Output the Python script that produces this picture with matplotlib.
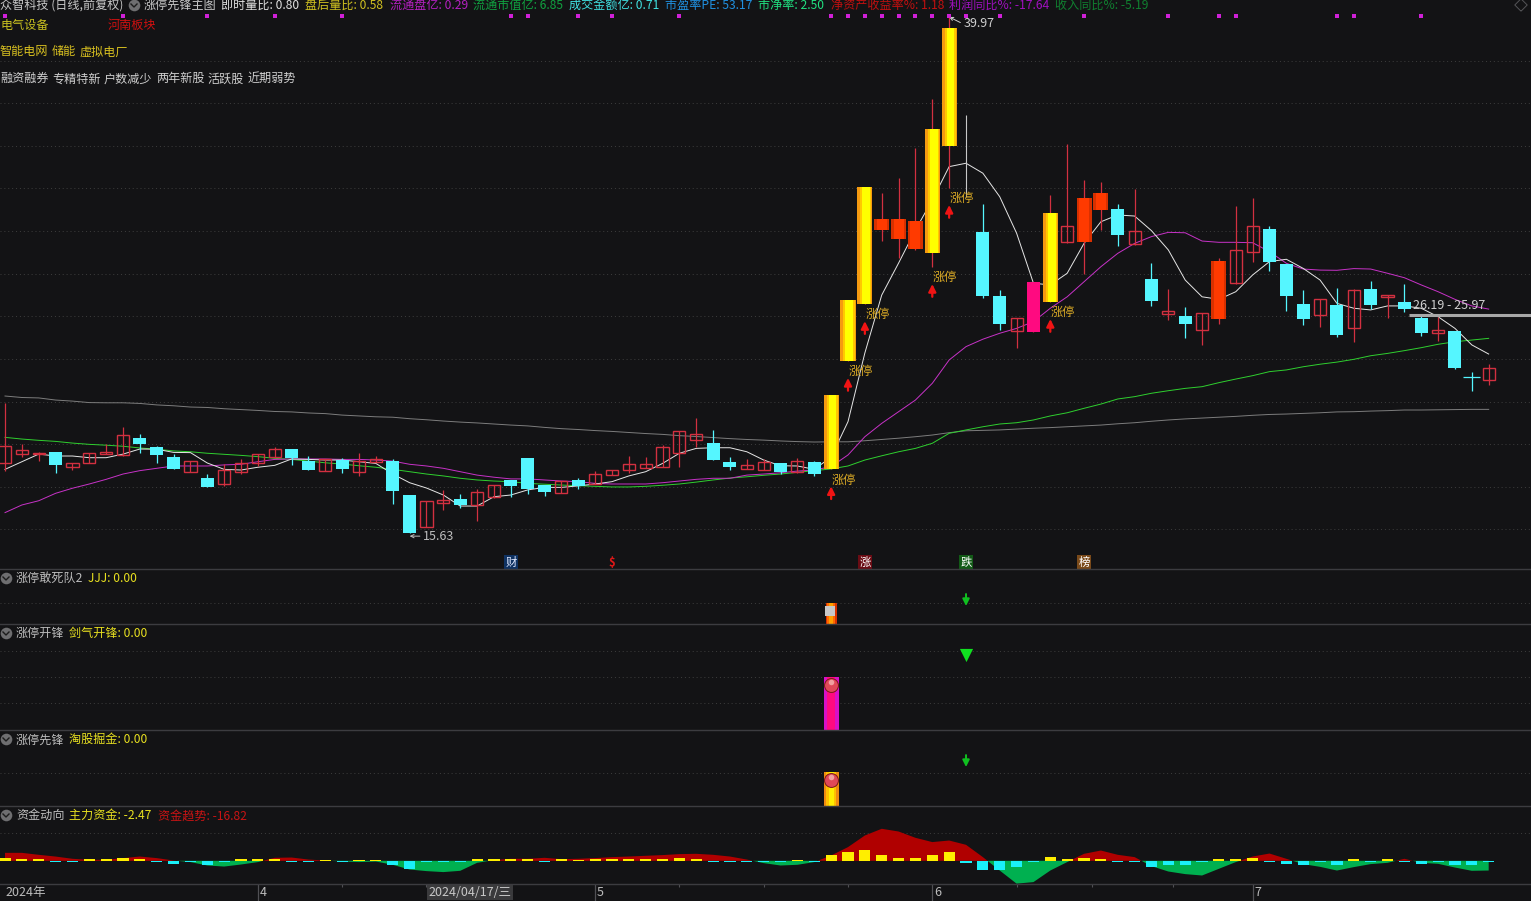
import matplotlib
matplotlib.use("Agg")
import matplotlib.pyplot as plt
import numpy as np

plt.rcParams['font.family'] = ['Noto Sans CJK SC', 'DejaVu Sans']

# daily candles
opens = [18.94,19.37,19.35,19.45,18.75,18.94,19.37,19.32,20.11,19.68,19.21,18.52,18.22,17.95,18.52,18.91,19.20,19.58,19.02,18.57,
         19.07,18.52,18.99,19.02,17.42,15.91,17.06,17.23,16.93,17.34,18.13,19.17,17.88,17.53,18.13,17.94,18.38,18.61,18.71,18.75,
         19.39,20.03,19.87,18.98,18.63,18.61,18.91,18.49,18.98,18.65,23.76,26.44,29.92,29.51,29.02,28.85,33.90,33.08,29.83,26.81,
         25.17,25.11,26.54,29.37,29.35,30.86,30.91,29.27,27.61,25.97,25.86,25.22,25.74,27.43,28.87,29.97,28.32,26.43,25.93,26.38,
         25.31,27.14,26.75,26.52,25.77,25.08,25.16,22.97,22.86]
highs = [21.75,19.82,19.45,19.45,18.91,19.39,19.81,20.64,20.30,19.73,19.35,19.01,18.41,18.88,19.10,19.34,19.70,19.58,19.25,19.12,
         19.17,19.39,19.26,19.12,17.42,17.14,17.66,17.47,17.70,17.88,18.13,19.17,17.88,18.08,18.21,18.57,18.59,19.26,19.21,19.77,
         20.45,21.04,20.49,19.21,19.10,19.10,18.91,19.15,19.04,22.14,26.62,31.95,31.68,32.39,33.79,36.11,39.97,35.35,31.15,27.09,
         25.76,27.45,31.57,33.96,32.28,32.18,31.15,31.86,28.35,27.14,26.29,25.99,28.59,31.05,31.43,30.11,28.32,27.09,26.65,27.18,
         27.12,27.52,26.85,27.37,25.91,25.83,25.16,23.21,23.60]
lows = [18.56,19.21,19.02,18.47,18.60,18.94,19.37,19.26,19.42,18.93,18.65,18.52,17.80,17.84,18.43,18.79,19.20,18.83,18.60,18.57,
        18.47,18.32,18.99,17.00,15.63,15.91,16.71,16.82,16.21,17.28,17.34,17.48,17.39,17.53,17.69,17.94,18.38,18.47,18.68,18.75,
        18.75,19.70,19.07,18.61,18.63,18.61,18.43,18.47,18.32,18.65,23.76,26.44,29.42,28.61,28.98,28.19,31.92,31.48,26.70,25.20,
        24.37,25.11,26.54,29.29,27.85,29.92,29.17,29.21,26.34,25.68,24.84,24.51,25.49,27.39,28.43,28.00,26.11,25.45,25.36,24.89,
        24.65,26.19,25.78,26.07,24.93,24.70,23.36,22.34,22.62]
closes = [19.73,19.53,19.41,18.83,18.91,19.39,19.45,20.25,19.83,19.30,18.65,19.01,17.80,18.60,18.91,19.34,19.58,19.15,18.60,19.12,
          18.65,19.04,19.12,17.61,15.63,17.14,17.17,16.95,17.55,17.88,17.85,17.70,17.58,18.08,17.85,18.41,18.59,18.87,18.87,19.68,
          20.45,20.28,19.07,18.74,18.82,18.96,18.51,19.01,18.41,22.14,26.62,31.95,30.44,30.44,30.35,34.69,39.45,33.08,26.81,25.49,
          25.76,27.45,30.72,30.10,31.43,31.67,29.68,29.86,26.59,26.10,25.49,25.99,28.46,28.96,30.10,28.43,26.81,25.72,26.65,24.97,
          27.08,26.38,26.85,26.19,25.06,25.19,23.41,22.97,23.40]

ma_white = [18.63,18.99,19.35,19.26,19.26,19.18,19.18,19.35,19.59,19.58,19.43,19.42,18.93,18.63,18.60,18.73,18.82,19.12,19.10,19.07,
            19.07,18.99,18.91,18.41,18.00,17.75,17.42,16.90,16.90,17.34,17.42,17.66,17.78,17.78,17.85,17.94,18.05,18.32,18.52,18.91,
            19.39,19.62,19.65,19.65,19.46,19.07,18.80,18.79,18.63,19.21,20.88,24.12,26.85,28.36,29.92,31.34,32.91,33.07,32.60,31.49,
            29.77,27.41,27.33,27.88,29.29,30.31,30.63,30.58,29.89,28.98,27.56,26.77,26.65,27.01,27.80,28.43,28.54,28.11,27.56,26.46,
            26.23,26.15,26.34,26.34,26.23,25.83,25.28,24.50,24.07]
ma_magenta = [16.59,16.95,17.15,17.50,17.74,17.94,18.16,18.41,18.57,18.68,18.79,18.79,18.79,18.84,18.87,18.99,19.10,19.12,19.12,19.12,
              19.10,19.10,19.07,19.02,18.87,18.79,18.68,18.52,18.36,18.26,18.18,18.18,18.13,18.08,18.05,17.97,17.94,17.94,17.94,18.00,
              18.08,18.16,18.21,18.21,18.36,18.41,18.47,18.55,18.60,18.76,19.31,20.17,20.80,21.35,21.90,22.69,23.79,24.42,24.77,25.05,
              25.28,25.60,26.23,26.77,27.48,28.19,28.82,29.29,29.61,29.81,29.79,29.40,29.34,29.34,29.32,28.90,28.35,28.08,28.03,28.02,
              28.10,28.08,27.88,27.67,27.33,27.01,26.65,26.34,26.19]
ma_green = [20.14,20.06,20.00,19.95,19.87,19.81,19.77,19.72,19.64,19.58,19.50,19.46,19.39,19.34,19.29,19.23,19.15,19.10,19.02,18.94,
            18.88,18.80,18.73,18.63,18.52,18.41,18.32,18.21,18.13,18.08,18.05,17.97,17.93,17.89,17.86,17.83,17.80,17.80,17.83,17.88,
            17.94,18.03,18.13,18.22,18.28,18.35,18.41,18.49,18.57,18.65,18.79,19.07,19.27,19.46,19.62,19.86,20.33,20.49,20.64,20.77,
            20.83,20.96,21.15,21.30,21.51,21.71,21.95,22.06,22.22,22.34,22.45,22.53,22.72,22.89,23.05,23.24,23.32,23.47,23.59,23.69,
            23.82,23.99,24.10,24.23,24.37,24.53,24.65,24.73,24.81]
ma_gray = [22.09,22.02,22.00,21.90,21.85,21.78,21.77,21.77,21.74,21.67,21.63,21.57,21.55,21.49,21.45,21.41,21.36,21.34,21.29,21.26,
           21.19,21.15,21.11,21.09,21.02,20.97,20.91,20.86,20.82,20.77,20.72,20.68,20.61,20.55,20.51,20.46,20.42,20.37,20.32,20.28,
           20.22,20.18,20.13,20.08,20.04,20.01,19.97,19.94,19.92,19.93,19.93,19.98,20.04,20.10,20.17,20.25,20.36,20.45,20.47,20.49,
           20.53,20.57,20.60,20.64,20.68,20.72,20.78,20.83,20.90,20.96,21.01,21.05,21.09,21.13,21.18,21.22,21.24,21.27,21.30,21.34,
           21.35,21.38,21.40,21.43,21.43,21.44,21.45,21.46,21.46]

# money flow panel
trend = [13.8,13.8,10.4,7.4,3.5,1.7,1.7,4.7,7.4,4.7,0.5,-2.2,-8.1,-9.9,-6.4,-2.2,5.2,5.7,2.2,0.5,
         -1.2,-2.2,-1.2,-6.9,-15.1,-17.8,-19.5,-17.3,-3.5,1.2,3.5,3.5,5.2,2.9,3.5,4.7,6.4,7.4,8.7,9.9,
         11.6,12.1,10.4,7.4,2.2,-4.0,-8.1,-6.9,-2.2,9.2,23.7,43.8,55.4,50.7,39.8,32.4,35.1,27.7,6.4,-16.8,
         -39.5,-36.8,-16.8,-2.2,12.1,17.8,10.4,6.4,-9.2,-18.5,-23.0,-25.4,-13.8,-2.2,7.4,12.6,3.5,-5.7,-10.4,-16.8,
         -10.9,-5.7,-3.5,3.5,-3.5,-5.2,-11.6,-17.3,-16.82]
force = [5.7,3.2,3.2,-2.7,-2.7,3.2,3.2,4.7,3.2,-2.9,-5.2,-2.7,-6.9,-2.9,3.2,3.2,3.2,-2.7,-2.9,1.8,
         -2.9,1.8,1.8,-6.9,-13.8,-2.9,-2.9,-2.9,3.2,3.2,3.2,2.7,-2.7,3.2,1.8,3.2,3.2,3.2,3.2,4.0,
         5.7,4.0,-2.9,-2.9,-2.7,-2.0,-2.9,1.5,-2.9,10.9,16.1,19.5,10.9,5.7,5.7,10.9,14.4,-4.0,-15.1,-15.1,
         -10.4,-2.9,7.4,4.0,5.7,4.0,-2.9,-2.0,-9.9,-8.1,-6.4,-2.9,4.0,4.0,5.7,-2.0,-4.7,-6.4,-2.9,-6.4,
         3.2,-2.7,3.2,-2.0,-4.7,-2.9,-6.4,-6.4,-2.47]

limit_up = [49, 50, 51, 55, 56, 62]
solid_red = [52, 53, 54, 64, 65, 72]
pink_bar = [61]
pale_doji = [57]
top_dots = [0, 7, 12, 16, 20, 30, 31, 34, 36, 40, 49, 50, 51, 52, 53, 54, 55, 56, 57, 59, 64, 69, 72, 73, 79, 80, 84]
grid_prices = [15.80, 17.81, 19.82, 21.83, 23.84, 25.85, 27.86, 29.87, 31.88, 33.89, 35.90, 37.91]
badges = [(30, "财", "#dfe8ff", "#0f3262"), (36, "$", "#e01818", "#131315"), (51, "涨", "#ffffff", "#6a0c14"),
          (57, "跌", "#ffffff", "#125a16"), (64, "榜", "#ffffff", "#7a4a1a")]

month_ticks = [15, 35, 55, 74]
month_labels = ["4", "5", "6", "7"]
small_ticks = [20, 25, 40, 45, 50, 60, 64.5, 69.3]

# signal panels, 0..1 of panel height
signal_bar = 49
signal_down = 57
sig1_top, sig1_mark, sig1_arrow = 0.387, 0.236, (0.545, 0.327)
sig2_top, sig2_ball, sig2_tri = 0.50, 0.425, 0.708
sig3_top, sig3_ball, sig3_arrow = 0.447, 0.342, (0.67, 0.513)

W, H = 1531, 901
BG = "#131315"
STEP = 16.86
X0 = 5.0
n = len(closes)
xs = np.arange(n)
CYAN = "#55f6ff"
RED = "#d23040"


def panel(top, bottom, ylim):
    ax = fig.add_axes([0, 1 - bottom / H, 1, (bottom - top) / H])
    ax.set_xlim(-X0 / STEP, (W - X0) / STEP)
    ax.set_ylim(*ylim)
    ax.set_facecolor(BG)
    ax.set_xticks([])
    ax.set_yticks([])
    for s in ax.spines.values():
        s.set_visible(False)
    return ax


def dots(ax, levels):
    ax.hlines(levels, *ax.get_xlim(), color="#3e3e3e", lw=0.7, linestyle=(0, (1, 3)), zorder=1)


def layered(ax, x, bottom, height, layers, z=4):
    for w, c, shift in layers:
        ax.bar(x + shift, height, w, bottom, color=c, lw=0, zorder=z)


fig = plt.figure(figsize=(W / 100, H / 100), dpi=100, facecolor=BG)

# main price panel
ax = panel(0, 569, (40.77 - 0.04717 * 569, 40.77))
dots(ax, grid_prices)
for series, col in [(ma_gray, "#7d7d7d"), (ma_green, "#2fd02f"), (ma_magenta, "#c832c8"), (ma_white, "#e6e6e6")]:
    ax.plot(xs, series, color=col, lw=0.7, zorder=2)

for i in range(n):
    o, h, l, c = opens[i], highs[i], lows[i], closes[i]
    top, bot = max(o, c), min(o, c)
    if i in pale_doji:
        ax.vlines(i, l, h, color="#c8c8c8", lw=0.8, zorder=3)
        continue
    down = c < o or i == 87
    wick = CYAN if down else RED
    ax.vlines(i, l, h, color=wick, lw=0.9, zorder=3)
    if i in limit_up:
        layered(ax, i, bot, top - bot, [(0.89, "#f59a10", 0), (0.66, "#ffc800", 0.06), (0.46, "#ffff00", 0.08)])
    elif i in solid_red:
        layered(ax, i, bot, top - bot, [(0.89, "#d83000", 0), (0.6, "#ff3a00", 0)])
    elif i in pink_bar:
        ax.bar(i, top - bot, 0.77, bot, color="#ff0a80", lw=0, zorder=4)
    elif i == 87:
        ax.hlines(c, i - 0.5, i + 0.5, color=CYAN, lw=0.9, zorder=4)
    elif down:
        ax.bar(i, top - bot, 0.77, bot, color=CYAN, lw=0, zorder=4)
    else:
        ax.bar(i, top - bot, 0.72, bot, facecolor="none", edgecolor=RED, lw=1.0, zorder=4)

for i in limit_up:
    ax.annotate("", xy=(i, lows[i] - 0.82), xytext=(i, lows[i] - 1.42),
                arrowprops=dict(arrowstyle="-|>", color="#f01414", lw=1.6, mutation_scale=11, shrinkA=0, shrinkB=0), zorder=5)
    ax.text(i + 0.75, lows[i] - 0.52, "涨停", color="#d8a825", fontsize=8.8, ha="center", va="center", zorder=6)

ax.scatter(top_dots, [40.01] * len(top_dots), s=5, marker="s", color="#d020d8", lw=0, zorder=5)

high_i = int(np.argmax(highs))
low_i = int(np.argmin(lows))
ax.annotate("39.97", xy=(high_i, highs[high_i]), xytext=(14, -7), textcoords="offset pixels", color="#cfcfcf",
            fontsize=9, va="center",
            arrowprops=dict(arrowstyle="->", color="#cfcfcf", lw=0.7, shrinkA=0, shrinkB=0, mutation_scale=6, relpos=(0, 0.5)))
ax.annotate("15.63", xy=(low_i, lows[low_i] - 0.15), xytext=(13, 0), textcoords="offset pixels", color="#bdbdbd",
            fontsize=9, va="center",
            arrowprops=dict(arrowstyle="->", color="#bdbdbd", lw=0.7, shrinkA=0, shrinkB=0, mutation_scale=6, relpos=(0, 0.5)))

# cost band on the right
ax.hlines(25.93, 83.3, ax.get_xlim()[1], color="#a8a8a8", lw=2.2, zorder=5)
ax.text(83.5, 26.35, "26.19 - 25.97", color="#cfcfcf", fontsize=9, va="center", zorder=6)

for i, s, fg, bgc in badges:
    ax.text(i, 14.26, s, color=fg, fontsize=8.2, ha="center", va="center", zorder=6, fontweight="bold" if s == "$" else "normal",
            bbox=dict(boxstyle="square,pad=0.12", fc=bgc, ec="none"))

# 涨停敢死队2
ax1 = panel(569, 624, (0, 1))
dots(ax1, [0.38])
layered(ax1, signal_bar, 0, sig1_top, [(0.66, "#d83000", 0), (0.5, "#ff6a00", 0), (0.2, "#ffa000", 0)])
ax1.scatter([signal_bar - 0.07], [sig1_mark], s=44, marker="s", color="#c8c8c8", lw=0, zorder=5)
ax1.annotate("", xy=(signal_down, sig1_arrow[1]), xytext=(signal_down, sig1_arrow[0]),
             arrowprops=dict(arrowstyle="-|>", color="#10c020", lw=1.4, mutation_scale=10, shrinkA=0, shrinkB=0))

# 涨停开锋
ax2 = panel(624, 730, (0, 1))
dots(ax2, [0.742, 0.50, 0.255])
layered(ax2, signal_bar, 0, sig2_top, [(0.89, "#d810c8", 0), (0.5, "#ff0a80", 0)])
ax2.scatter([signal_bar], [sig2_ball], s=100, color="#e04858", edgecolor="#7a1818", lw=0.7, zorder=5)
ax2.scatter([signal_bar], [sig2_ball + 0.025], s=16, color="#f0a0a0", lw=0, zorder=6)
ax2.scatter([signal_down], [sig2_tri], s=90, marker="v", color="#10e020", lw=0, zorder=5)

# 涨停先锋
ax3 = panel(730, 806, (0, 1))
dots(ax3, [0.44])
layered(ax3, signal_bar, 0, sig3_top, [(0.89, "#f08a10", 0), (0.6, "#ffc000", 0), (0.3, "#ffee00", 0)])
ax3.scatter([signal_bar], [sig3_ball], s=100, color="#e04858", edgecolor="#7a1818", lw=0.7, zorder=5)
ax3.scatter([signal_bar], [sig3_ball + 0.035], s=16, color="#f0a0a0", lw=0, zorder=6)
ax3.annotate("", xy=(signal_down, sig3_arrow[1]), xytext=(signal_down, sig3_arrow[0]),
             arrowprops=dict(arrowstyle="-|>", color="#10c020", lw=1.4, mutation_scale=10, shrinkA=0, shrinkB=0))

# 资金动向
ax4 = panel(806, 884, (-40.1, 94.8))
dots(ax4, [48])
tr = np.array(trend)
ax4.fill_between(xs, 0, tr, where=tr >= 0, interpolate=True, color="#b00000", lw=0, zorder=2)
ax4.fill_between(xs, 0, tr, where=tr <= 0, interpolate=True, color="#00b050", lw=0, zorder=2)
for i, v in enumerate(force):
    ax4.bar(i, v, 0.66, color="#ffee00" if v > 0 else "#1af0f8", lw=0, zorder=3)

# date strip
ax5 = panel(884, H, (1, 0))
ax5.vlines(month_ticks, 0, 1, color="#505054", lw=0.9)
ax5.vlines(small_ticks, 0, 0.15, color="#505054", lw=0.8)
for i, s in zip(month_ticks, month_labels):
    ax5.text(i + 0.12, 0.5, s, color="#bcbcbc", fontsize=9, va="center")
ax5.text(0.0, 0.5, "2024年", color="#bcbcbc", fontsize=9, va="center")
ax5.text(27.6, 0.48, "2024/04/17/三", color="#c8c8c8", fontsize=9, ha="center", va="center", zorder=5,
         bbox=dict(boxstyle="square,pad=0.12", fc="#3a3a3c", ec="none"))

# overlay in pixel coordinates for header texts and icons
ov = fig.add_axes([0, 0, 1, 1], zorder=10)
ov.set_xlim(0, W)
ov.set_ylim(H, 0)
ov.axis("off")
ov.patch.set_alpha(0)

for y in [569, 624, 730, 806, 884]:
    ov.plot([0, W], [y, y], color="#3c3c40", lw=1.0)


def label(x, y, s, color):
    ov.text(x, y + 0.8, s, color=color, fontsize=8.7, va="center", ha="left")


def icon(x, y):
    ov.scatter([x], [y], s=70, color="#6e6e70", lw=0)
    ov.plot([x - 3, x, x + 3], [y - 1, y + 2, y - 1], color="#1c1c1c", lw=1)


header = [(0, "众智科技 (日线,前复权)", "#c8c8c8"), (144, "涨停先锋主图", "#c8c8c8"), (221, "即时量比: 0.80", "#e0e0e0"),
          (305, "盘后量比: 0.58", "#cfc020"), (390, "流通盘亿: 0.29", "#b420c0"), (473, "流通市值亿: 6.85", "#10a040"),
          (569, "成交金额亿: 0.71", "#40e0e0"), (665, "市盈率PE: 53.17", "#2090e0"), (758, "市净率: 2.50", "#20e080"),
          (831, "净资产收益率%: 1.18", "#c01010"), (949, "利润同比%: -17.64", "#a010c0"), (1055, "收入同比%: -5.19", "#108030")]
for x, s, c in header:
    label(x, 4.5, s, c)
icon(134, 5)
ov.scatter([1521], [5], s=40, marker="D", facecolor="none", edgecolor="#555558", lw=0.7)

label(0, 25, "电气设备", "#c8c020")
label(108, 25, "河南板块", "#d01010")
for x, s in [(0, "智能电网"), (52, "储能"), (80, "虚拟电厂")]:
    label(x, 51, s, "#d8c020")
for x, s in [(0, "融资融券"), (52, "专精特新"), (104, "户数减少"), (156, "两年新股"), (208, "活跃股"), (248, "近期弱势")]:
    label(x, 78, s, "#cfcfcf")

for y, name, x2, val, col in [(578, "涨停敢死队2", 88, "JJJ: 0.00", "#e8e020"),
                              (633, "涨停开锋", 69, "剑气开锋: 0.00", "#e8e020"),
                              (739, "涨停先锋", 69, "淘股掘金: 0.00", "#e8e020"),
                              (815, "资金动向", 69, "主力资金: -2.47", "#e8e020")]:
    icon(6, y)
    label(16, y, name, "#bdbdbd")
    label(x2, y, val, col)
label(158, 815, "资金趋势: -16.82", "#c81414")

fig.savefig("out.png", dpi=100, facecolor=BG)
